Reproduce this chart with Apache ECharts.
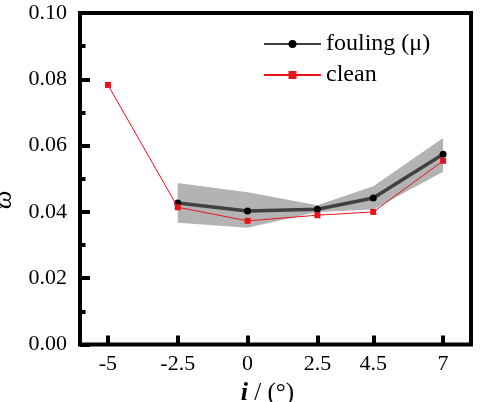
<!DOCTYPE html>
<html><head><meta charset="utf-8">
<script src="https://cdn.jsdelivr.net/npm/echarts@6/dist/echarts.min.js"></script>
<style>html,body{margin:0;padding:0;background:#fff}#c{width:487px;height:402px}</style>
</head><body><div id="c"></div>
<script>
var xTicks = [-5, -2.5, 0, 2.5, 4.5, 7];
var cleanX = [-5, -2.5, 0, 2.5, 4.5, 7];
var cleanY = [0.0783, 0.0414, 0.0373, 0.0390, 0.0400, 0.0554];
var foulX = [-2.5, 0, 2.5, 4.5, 7];
var foulY = [0.0427, 0.0403, 0.0408, 0.0442, 0.0574];
var bandLow = [0.0367, 0.0352, 0.0400, 0.0407, 0.0521];
var bandHigh = [0.0487, 0.0459, 0.0420, 0.0477, 0.0623];

function pairs(xs, ys) { return xs.map(function (x, i) { return [x, ys[i]]; }); }
var bandData = foulX.map(function (x, i) { return [x, bandLow[i], bandHigh[i]]; });

var font = 'Liberation Serif';
var chart = echarts.init(document.getElementById('c'));
chart.setOption({
  animation: false,
  textStyle: { fontFamily: font },
  grid: { left: 80, right: 16, top: 13, bottom: 57.5, outerBoundsMode: 'none', containLabel: false,
          show: true, borderWidth: 4, borderColor: '#000' },
  legend: {
    left: 258, top: 27, orient: 'vertical', itemGap: 7, itemWidth: 57, itemHeight: 10,
    textStyle: { fontFamily: font, fontSize: 24, color: '#000' },
    data: ['fouling (\u03bc)', 'clean']
  },
  xAxis: {
    type: 'value', min: -6, max: 8,
    axisLine: { show: false, onZero: false },
    splitLine: { show: false },
    axisTick: { show: true, inside: true, length: 9, customValues: xTicks, lineStyle: { color: '#000', width: 4 } },
    axisLabel: { customValues: xTicks, margin: 9, fontFamily: font, fontSize: 22, color: '#000' },
    name: '{i|i}{n| / (\u00b0)}', nameLocation: 'middle', nameGap: 21,
    nameTextStyle: { padding: [0, 16, 0, 0], rich: { i: { fontFamily: font, fontSize: 26, fontStyle: 'italic', fontWeight: 'bold', color: '#000' }, n: { fontFamily: font, fontSize: 25, color: '#000' } } }
  },
  yAxis: {
    type: 'value', min: 0, max: 0.1, interval: 0.02,
    axisLine: { show: false, onZero: false },
    splitLine: { show: false },
    axisTick: { show: true, inside: true, length: 10, lineStyle: { color: '#000', width: 4 } },
    minorTick: { show: true, splitNumber: 2, length: 5.5, lineStyle: { color: '#000', width: 4 } },
    axisLabel: { margin: 13, fontFamily: font, fontSize: 22, color: '#000', formatter: function (v) { return v.toFixed(2); } },
    name: '\u03d6', nameLocation: 'middle', nameGap: 58, nameRotate: 90,
    nameTextStyle: { fontFamily: font, fontSize: 26, fontStyle: 'italic', color: '#000', padding: [0, 42, 0, 0] }
  },
  series: [
    { name: 'band', type: 'custom', data: bandData, z: 1, silent: true,
      encode: { x: 0, y: [1, 2] },
      renderItem: function (params, api) {
        if (params.dataIndex !== 0) return null;
        var pts = [];
        for (var i = 0; i < bandData.length; i++) pts.push(api.coord([bandData[i][0], bandData[i][2]]));
        for (var j = bandData.length - 1; j >= 0; j--) pts.push(api.coord([bandData[j][0], bandData[j][1]]));
        return { type: 'polygon', shape: { points: pts }, style: { fill: '#b3b3b3' } };
      }
    },
    { name: 'fouling (\u03bc)', type: 'line', data: pairs(foulX, foulY), symbol: 'circle', symbolSize: 7,
      itemStyle: { color: '#000' }, lineStyle: { color: '#404040', width: 3.5 }, z: 3 },
    { name: 'clean', type: 'line', data: pairs(cleanX, cleanY), symbol: 'rect', symbolSize: 6,
      itemStyle: { color: '#e8131b' }, lineStyle: { color: '#e8131b', width: 1 }, z: 4 }
  ]
});
</script></body></html>
